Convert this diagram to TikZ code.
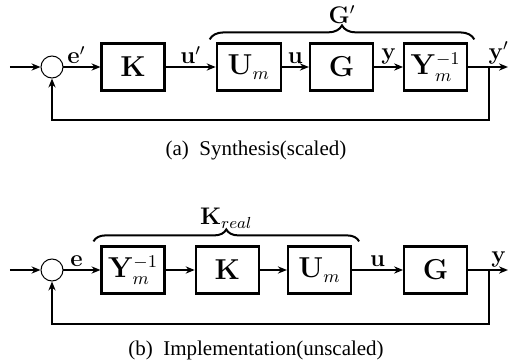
\documentclass[tikz,border=0pt]{standalone}
\usepackage[no-math]{fontspec}
\setmainfont{Liberation Serif}
\usepackage{amsmath}
\usepackage{tikz}
\usetikzlibrary{arrows.meta, positioning, calc, decorations.pathreplacing}

\begin{document}
\begin{tikzpicture}[
      blk/.style={rectangle, draw, line width=1.1pt, minimum width=31.5pt, minimum height=23.5pt, inner sep=0pt, font=\fontsize{13.5}{15}\selectfont},
      sumj/.style={circle, draw, line width=0.5pt, minimum size=11pt, inner sep=0pt},
      arr/.style={-{Stealth[length=4.5pt, width=3.6pt]}, line width=0.85pt},
      wire/.style={line width=0.85pt},
      lbl/.style={above, inner sep=1.2pt, font=\large},
      brc/.style={decorate, decoration={brace, amplitude=7pt}, line width=1pt},
      captext/.style={font=\fontsize{10.5}{12}\selectfont}]
    \useasboundingbox (0,0) rectangle (255.5pt,-182pt);
    % (a) synthesis, scaled
    \node[sumj] (sumA) at (26pt,-33.5pt) {};
    \node[blk, right=18.5pt of sumA] (kA) {$\mathbf{K}$};
    \node[blk, right=25pt of kA, minimum width=32pt] (umA) {$\mathbf{U}_m$};
    \node[blk, right=13.5pt of umA] (gA) {$\mathbf{G}$};
    \node[blk, right=14.5pt of gA] (ymA) {$\mathbf{Y}_m^{-1}$};
    \coordinate[right=10.5pt of ymA] (brA);
    \coordinate (outA) at (254pt,-33.5pt);
    \coordinate (inA) at (5pt,-33.5pt);
    \coordinate[below=26.5pt of brA] (fbA);
    \draw[arr] (inA) -- (sumA);
    \draw[arr] (sumA) -- node[lbl, pos=0.35]{$\mathbf{e}'$} (kA);
    \draw[arr] (kA) -- node[lbl]{$\mathbf{u}'$} (umA);
    \draw[arr] (umA) -- node[lbl]{$\mathbf{u}$} (gA);
    \draw[arr] (gA) -- node[lbl]{$\mathbf{y}$} (ymA);
    \draw[wire] (ymA) -- (brA);
    \draw[arr] (brA) -- node[lbl]{$\mathbf{y}'$} (outA);
    \draw[arr] (brA) -- (fbA) -| (sumA);
    \draw[brc] ($(umA.north west)+(-3pt,1.5pt)$) -- node[midway, yshift=12.5pt, font=\large]{$\mathbf{G}'$} ($(ymA.north east)+(3pt,1.5pt)$);
    \node[captext] (capA) at (128pt,-75pt) {(a)\ \ Synthesis(scaled)};
    % (b) implementation, unscaled
    \node[sumj] (sumB) at (26pt,-135pt) {};
    \node[blk, right=18.5pt of sumB] (ymB) {$\mathbf{Y}_m^{-1}$};
    \node[blk, right=14.5pt of ymB] (kB) {$\mathbf{K}$};
    \node[blk, right=13.5pt of kB] (umB) {$\mathbf{U}_m$};
    \node[blk, right=25.5pt of umB] (gB) {$\mathbf{G}$};
    \coordinate[right=10.5pt of gB] (brB);
    \coordinate (outB) at (254pt,-135pt);
    \coordinate (inB) at (5pt,-135pt);
    \coordinate[below=27pt of brB] (fbB);
    \draw[arr] (inB) -- (sumB);
    \draw[arr] (sumB) -- node[lbl, pos=0.35]{$\mathbf{e}$} (ymB);
    \draw[arr] (ymB) -- (kB);
    \draw[arr] (kB) -- (umB);
    \draw[arr] (umB) -- node[lbl]{$\mathbf{u}$} (gB);
    \draw[wire] (gB) -- (brB);
    \draw[arr] (brB) -- node[lbl]{$\mathbf{y}$} (outB);
    \draw[arr] (brB) -- (fbB) -| (sumB);
    \draw[brc, decoration={amplitude=6pt}] ($(ymB.north west)+(-3.5pt,2pt)$) -- node[midway, yshift=11.5pt, font=\large]{$\mathbf{K}_{real}$} ($(umB.north east)+(3.5pt,2pt)$);
    \node[captext] (capB) at (128pt,-175pt) {(b)\ \ Implementation(unscaled)};
  \end{tikzpicture}
\end{document}
